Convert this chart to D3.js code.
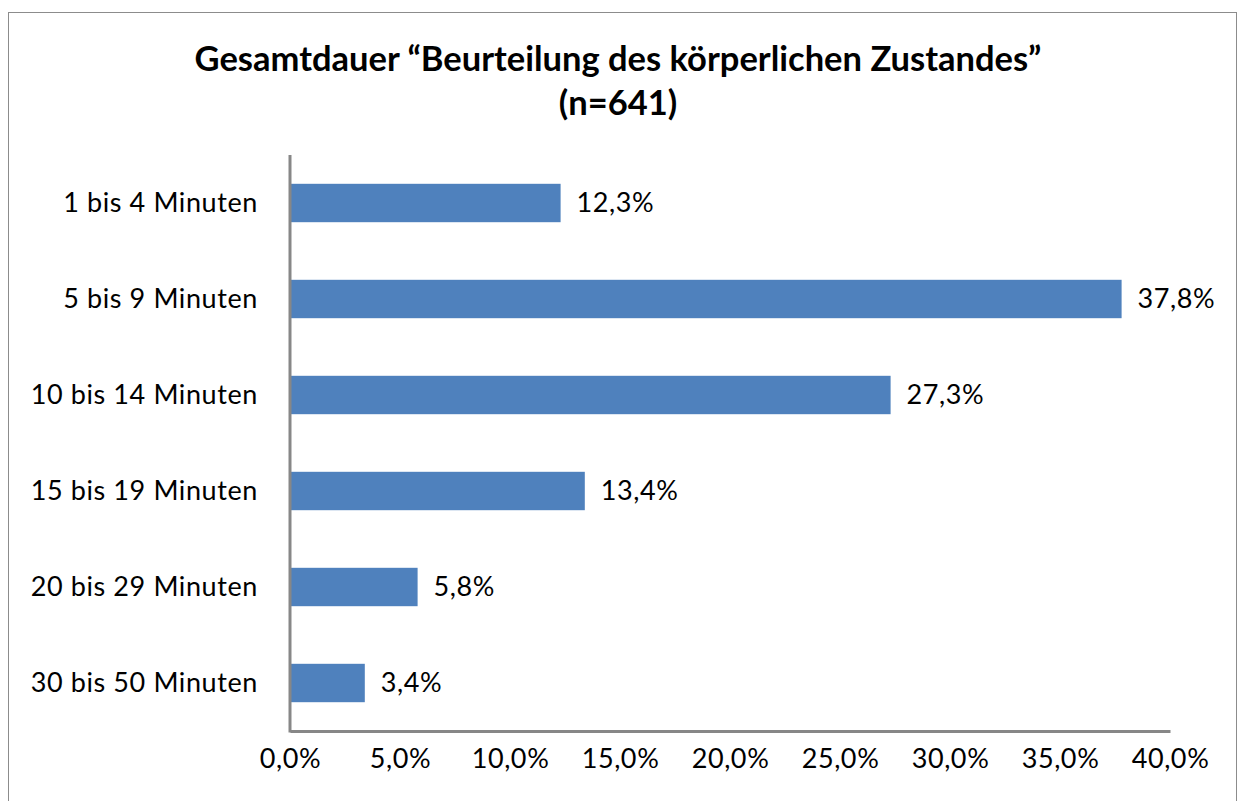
<!DOCTYPE html>
<html lang="de">
<head>
<meta charset="utf-8">
<title>Gesamtdauer</title>
<script src="https://cdn.jsdelivr.net/npm/d3@7"></script>
<style>
  body { margin: 0; background: #fff; }
  text { font-family: Lato, "Open Sans", sans-serif; fill: #000; }
  .lbl { font-size: 27px; letter-spacing: 0.6px; }
</style>
</head>
<body>
<script>
var categories = ["1 bis 4 Minuten", "5 bis 9 Minuten", "10 bis 14 Minuten",
                  "15 bis 19 Minuten", "20 bis 29 Minuten", "30 bis 50 Minuten"];
var values = [12.3, 37.8, 27.3, 13.4, 5.8, 3.4];
var ticks = [0, 5, 10, 15, 20, 25, 30, 35, 40];

var w = 1238, h = 801;
var mLeft = 290, mRight = 1170, mTop = 155, mBottom = 731;

var fmt = function(v){ return v.toFixed(1).replace(".", ",") + "%"; };

var svg = d3.select("body").append("svg")
  .attr("width", w).attr("height", h);

svg.append("rect")
  .attr("x", 8.5).attr("y", 12.5)
  .attr("width", 1228).attr("height", 800)
  .attr("fill", "#fff").attr("stroke", "#8c8c8c").attr("stroke-width", 1);

svg.append("text")
  .attr("x", 618).attr("y", 71)
  .attr("text-anchor", "middle")
  .style("font-size", "34.5px").style("font-weight", "bold")
  .text("Gesamtdauer \u201cBeurteilung des k\u00f6rperlichen Zustandes\u201d");
svg.append("text")
  .attr("x", 618).attr("y", 115)
  .attr("text-anchor", "middle")
  .style("font-size", "34.5px").style("font-weight", "bold")
  .text("(n=641)");

var x = d3.scaleLinear().domain([0, 40]).range([mLeft, mRight]);
var y = d3.scaleBand().domain(categories).range([mTop, mBottom]).paddingInner(0.6).paddingOuter(0.3);

svg.selectAll("rect.bar")
  .data(values)
  .enter().append("rect")
  .attr("class", "bar")
  .attr("x", x(0))
  .attr("y", function(d, i){ return y(categories[i]); })
  .attr("width", function(d){ return x(d) - x(0); })
  .attr("height", y.bandwidth())
  .attr("fill", "#4f81bd");

svg.selectAll("text.val")
  .data(values)
  .enter().append("text")
  .attr("class", "val lbl")
  .attr("x", function(d){ return x(d) + 16; })
  .attr("y", function(d, i){ return y(categories[i]) + y.bandwidth() / 2; })
  .attr("dy", "0.35em")
  .text(fmt);

svg.selectAll("text.cat")
  .data(categories)
  .enter().append("text")
  .attr("class", "cat lbl")
  .attr("x", 258)
  .attr("y", function(d){ return y(d) + y.bandwidth() / 2; })
  .attr("dy", "0.35em")
  .attr("text-anchor", "end")
  .text(function(d){ return d; });

var xAxis = svg.append("g")
  .attr("transform", "translate(0," + mBottom + ")")
  .call(d3.axisBottom(x).tickValues(ticks).tickSize(0).tickPadding(18).tickFormat(fmt));
xAxis.select(".domain").attr("stroke", "#878787").attr("stroke-width", 3);
xAxis.selectAll("text").attr("class", "lbl").attr("font-size", null).attr("font-family", null);

svg.append("line")
  .attr("x1", mLeft).attr("x2", mLeft)
  .attr("y1", mTop).attr("y2", mBottom + 1.5)
  .attr("stroke", "#878787").attr("stroke-width", 3);
</script>
</body>
</html>
